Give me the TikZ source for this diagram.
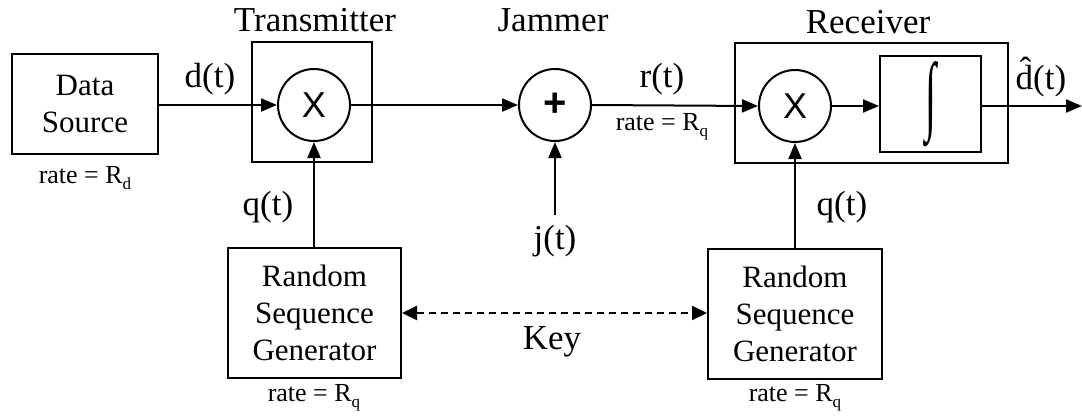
\documentclass[tikz,border=0pt]{standalone}
\usepackage{fontspec}
\usepackage{graphicx}
\setmainfont{Liberation Serif}
\newfontfamily\sansf{Liberation Sans}
\usetikzlibrary{arrows.meta}
\newcommand\lowsub[1]{\raisebox{-0.22em}{\fontsize{17}{17}\selectfont #1}}
\tikzset{
  sig/.style={line width=2pt, -{Triangle[length=16pt,width=13pt]}},
  blockbox/.style={draw, line width=2pt, inner sep=0pt, align=center,
    font=\fontsize{31}{37}\selectfont},
  mixer/.style={draw, circle, line width=2pt, minimum size=72pt, inner sep=0pt},
  biglabel/.style={font=\fontsize{35}{35}\selectfont, inner sep=0pt},
  ratelabel/.style={font=\fontsize{26}{26}\selectfont, inner sep=0pt},
}
\begin{document}
\begin{tikzpicture}[x=1pt, y=-1pt]
\useasboundingbox (0,0) rectangle (1082,416);

% data source and transmitter
\node[blockbox, minimum width=146pt, minimum height=100pt] (src) at (85,104) {Data\\Source};
\node[ratelabel] (srcrate) at (85,178) {rate = R\lowsub{d}};
\node[draw, line width=2pt, minimum width=120pt, minimum height=120pt, inner sep=0pt] (tx) at (312,102) {};
\node[biglabel] (txlabel) at (315,20) {Transmitter};
\node[mixer, font=\sansf\fontsize{36}{36}\selectfont] (txmix) at (314,105) {X};
\node[biglabel] (dlabel) at (210,79) {d(t)};

% jammer
\node[mixer, font=\sansf\bfseries\fontsize{40}{40}\selectfont] (jam) at (555,105) {+};
\node[biglabel] (jamlabel) at (553,20) {Jammer};
\node[biglabel] (jlabel) at (555,241) {j(t)};
\coordinate (jin) at (555,215);
\node[biglabel] (rlabel) at (662,79) {r(t)};
\node[ratelabel] (rrate) at (662,127) {rate = R\lowsub{q}};

% receiver
\node[draw, line width=2pt, minimum width=273pt, minimum height=120pt, inner sep=0pt] (rx) at (871.5,103) {};
\node[biglabel] (rxlabel) at (868,22) {Receiver};
\node[mixer, font=\sansf\fontsize{36}{36}\selectfont] (rxmix) at (795,106) {X};
\node[draw, line width=2pt, minimum width=101pt, minimum height=96pt, inner sep=0pt] (integ) at (930.5,104) {};
\node[inner sep=0pt] (intsign) at (integ.center) {\resizebox{11pt}{62pt}{∫}};
\coordinate (out) at (1082,106);
\node[biglabel] (dhat) at (1041,77) {\^{d}(t)};

% sequence generators
\node[blockbox, minimum width=173pt, minimum height=130pt] (rsgl) at (314.5,313) {Random\\Sequence\\Generator};
\node[blockbox, minimum width=174pt, minimum height=130pt] (rsgr) at (795,314) {Random\\Sequence\\Generator};
\node[ratelabel] (ratel) at (314,398) {rate = R\lowsub{q}};
\node[ratelabel] (rater) at (795,398) {rate = R\lowsub{q}};
\node[biglabel] (qleft) at (268,207) {q(t)};
\node[biglabel] (qright) at (842,207) {q(t)};
\node[biglabel] (key) at (552,342) {Key};

% signal paths
\draw[sig] (src.east |- txmix) -- (txmix.west);
\draw[sig] (txmix.east) -- (jam.west);
\draw[sig] (jin) -- (jam.south);
\draw[sig] (jam.east) -- (rxmix.west);
\draw[sig] (rxmix.east) -- (integ.west |- rxmix);
\draw[sig] (integ.east |- rxmix) -- (out);
\draw[sig] (rsgl.north -| txmix) -- (txmix.south);
\draw[sig] (rsgr.north -| rxmix) -- (rxmix.south);
\draw[line width=2pt, dash pattern=on 7pt off 5pt,
      {Triangle[length=15pt,width=14pt]}-{Triangle[length=15pt,width=14pt]}]
  (rsgl.east |- 0,313) -- (rsgr.west |- 0,313);
\end{tikzpicture}
\end{document}
